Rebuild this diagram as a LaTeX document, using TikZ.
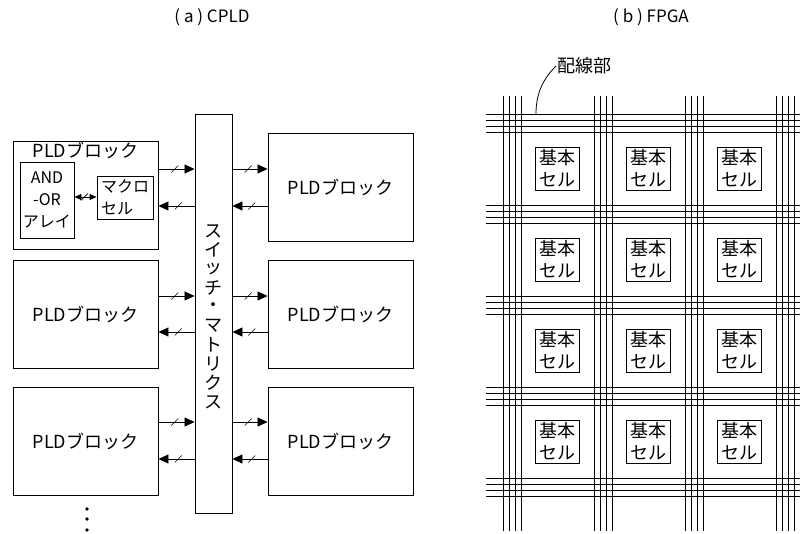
\documentclass[tikz,border=0pt]{standalone}
\usepackage{fontspec}
\setmainfont{Noto Sans CJK JP}
\usetikzlibrary{arrows.meta,decorations.markings,positioning}

\tikzset{
  block/.style={draw, line width=0.9pt, minimum width=145pt, minimum height=108pt,
    inner sep=0pt, font=\fontsize{18}{20}\selectfont},
  inbox/.style={draw, line width=0.9pt, inner sep=0pt, font=\fontsize{16}{22}\selectfont},
  cell/.style={draw, line width=0.9pt, minimum width=44pt, minimum height=43pt,
    inner sep=0pt, align=center, font=\fontsize{18}{22}\selectfont},
  vchar/.style={inner sep=0pt, font=\fontsize{18}{19}\selectfont},
  wire/.style={line width=0.8pt},
  bus/.style={line width=0.8pt, -{Triangle[length=10pt,width=9pt]}, postaction={decorate},
    decoration={markings, mark=at position 0.45 with {\draw[-,line width=0.6pt] (-3.5pt,-3.5pt) -- (3.5pt,3.5pt);}}},
}

\begin{document}
\begin{tikzpicture}[x=1pt,y=-1pt]
  \useasboundingbox (0,0) rectangle (803,533);

  % titles
  \node[font=\fontsize{17}{19}\selectfont] (ta) at (212,17) {( a ) CPLD};
  \node[font=\fontsize{17}{19}\selectfont] (tb) at (651,17) {( b ) FPGA};

  % (a) CPLD
  \node[draw, line width=0.9pt, minimum width=37pt, minimum height=399pt] (SW) at (213.5,313.5) {};
  \foreach \c [count=\i] in {ス,イ,ッ,チ,・,マ,ト,リ,ク,ス}
    \node[vchar] (v\i) at (213.5,{212+19*\i}) {\c};

  \node[block] (L1) at (85.5,195) {};
  \node[block] (L2) at (85.5,314) {PLDブロック};
  \node[block] (L3) at (85.5,441.5) {PLDブロック};
  \node[block] (R1) at (340.5,187.5) {PLDブロック};
  \node[block] (R2) at (340.5,314) {PLDブロック};
  \node[block] (R3) at (340.5,441.5) {PLDブロック};

  \node[anchor=north, inner sep=1pt, font=\fontsize{18}{20}\selectfont] (L1t) at (L1.north) {PLDブロック};
  \node[inbox, minimum width=54pt, minimum height=76pt, align=center] (AO) at (47,200) {AND\\-OR\\アレイ};
  \node[inbox, minimum width=56pt, minimum height=43pt, align=left] (MC) at (125,197.5) {マクロ\\セル};
  \draw[bus,{Triangle[length=7pt,width=6pt]}-{Triangle[length=7pt,width=6pt]}] (AO.east |- 0,197) -- (MC.west |- 0,197);

  \foreach \i/\ya/\yb in {1/169/206, 2/296/332, 3/422/459} {
    \draw[bus] (L\i.east |- 0,\ya) -- (SW.west |- 0,\ya);
    \draw[bus] (SW.west |- 0,\yb) -- (L\i.east |- 0,\yb);
    \draw[bus] (SW.east |- 0,\ya) -- (R\i.west |- 0,\ya);
    \draw[bus] (R\i.west |- 0,\yb) -- (SW.east |- 0,\yb);
  }

  \foreach \y [count=\i] in {509,519,530}
    \fill (87,\y) circle (1.8pt) coordinate (d\i);

  % (b) FPGA
  \foreach \g in {0,...,4}
    \foreach \o in {0,6,12,18}
      \draw[wire] (486,{114+91*\g+\o}) -- (800,{114+91*\g+\o});
  \foreach \g in {0,...,3}
    \foreach \o in {0,6,12.5,18.5}
      \draw[wire] ({503+91*\g+\o},96) -- ({503+91*\g+\o},531);

  \foreach \i in {0,1,2}
    \foreach \j in {0,...,3}
      \node[cell, fill=white] (c\i\j) at ({557.75+91*\i},{168.5+91*\j}) {基本\\セル};

  \coordinate (wp) at (536,114);
  \node[font=\fontsize{18}{20}\selectfont, anchor=west, inner sep=1pt] (wl) at (556,66) {配線部};
  \draw[line width=0.8pt] (wp) .. controls (536,92) and (544,78) .. (wl.west);
\end{tikzpicture}
\end{document}
